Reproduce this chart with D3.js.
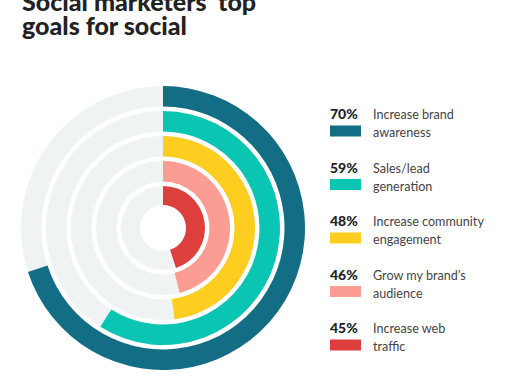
<!DOCTYPE html>
<html><head><meta charset="utf-8">
<script src="https://cdn.jsdelivr.net/npm/d3@7"></script>
<style>body{margin:0;background:#fff}svg{display:block}</style>
</head><body>
<svg id="c" width="510" height="382"></svg>
<script>
const categories = ["Increase brand awareness","Sales/lead generation","Increase community engagement","Grow my brand's audience","Increase web traffic"];
const labelLines = [["Increase brand","awareness"],["Sales/lead","generation"],["Increase community","engagement"],["Grow my brand\u2019s","audience"],["Increase web","traffic"]];
const values = [70,59,48,46,45];
const colors = ["#136e85","#0bc5b3","#fdcd1f","#fb9d92","#dd3f3d"];
const titleLines = ["Social marketers\u2019 top","goals for social"];

const svg = d3.select("#c");
const cx = 163, cy = 228;
const outerR = 142, step = 25, thick = 20.5, innerHole = 23;
const angle = d3.scaleLinear().domain([0,100]).range([0,2*Math.PI]);

const g = svg.append("g").attr("transform",`translate(${cx},${cy})`);
values.forEach((v,i)=>{
  const ro = outerR - i*step;
  const ri = i===values.length-1 ? innerHole : ro - thick;
  const arc = d3.arc().innerRadius(ri).outerRadius(ro).startAngle(0);
  g.append("path").attr("d",arc({endAngle:2*Math.PI})).attr("fill","#eff3f4");
  g.append("path").attr("d",arc({endAngle:angle(v)})).attr("fill",colors[i]);
});

// title
svg.append("text").attr("x",22).attr("y",11).attr("font-family","Lato").attr("font-weight",900)
  .attr("font-size",25).attr("fill","#222").text(titleLines[0]);
svg.append("text").attr("x",22).attr("y",35).attr("font-family","Lato").attr("font-weight",900)
  .attr("font-size",25).attr("fill","#222").text(titleLines[1]);

// legend
const ly = d3.scaleLinear().domain([0,4]).range([119,333]);
values.forEach((v,i)=>{
  const y = ly(i);
  svg.append("text").attr("x",330).attr("y",y).attr("font-family","Lato").attr("font-weight",900)
    .attr("font-size",14).attr("fill","#222").text(v+"%");
  svg.append("rect").attr("x",330).attr("y",y+6.5).attr("width",31).attr("height",11).attr("fill",colors[i]);
  labelLines[i].forEach((t,j)=>{
    svg.append("text").attr("x",373).attr("y",y+j*18).attr("font-family","Lato")
      .attr("font-size",12.6).attr("fill","#444").text(t);
  });
});
</script>
</body></html>
